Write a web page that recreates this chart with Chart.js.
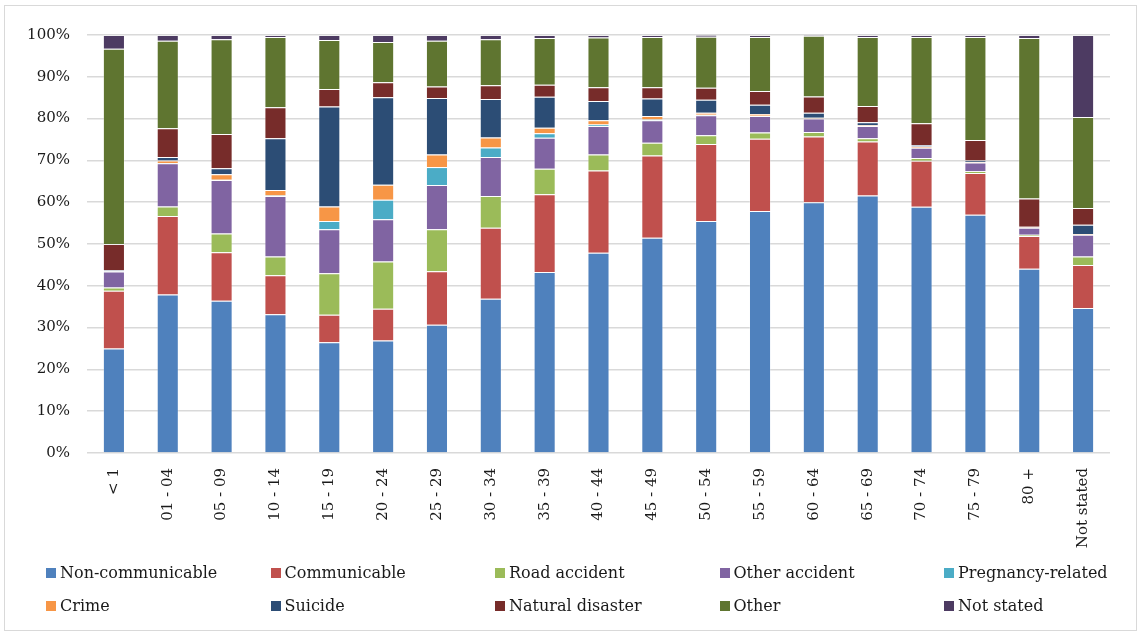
<!DOCTYPE html>
<html>
<head>
<meta charset="utf-8">
<script src="https://cdn.jsdelivr.net/npm/chart.js@4/dist/chart.umd.min.js"></script>
<style>
  body { margin: 0; background: #fff; }
  #wrap { position: relative; width: 1141px; height: 635px; }
  #frame { position: absolute; left: 4px; top: 5px; width: 1133px; height: 626px; border: 1px solid #d9d9d9; box-sizing: border-box; pointer-events: none; }
  #legend { position: absolute; left: 0; top: 0; width: 1141px; height: 635px; pointer-events: none; font-family: "DejaVu Serif", serif; font-size: 16px; color: #1a1a1a; }
  .item { position: absolute; display: flex; align-items: center; white-space: nowrap; }
  .sw { width: 10px; height: 10px; margin-right: 4px; }
</style>
</head>
<body>
<div id="wrap">
  <canvas id="deathsChart" width="1141" height="635"></canvas>
  <div id="frame"></div>
  <div id="legend"></div>
</div>
<script>
// age groups
const ageGroups = ['< 1', '01 - 04', '05 - 09', '10 - 14', '15 - 19', '20 - 24', '25 - 29', '30 - 34', '35 - 39',
  '40 - 44', '45 - 49', '50 - 54', '55 - 59', '60 - 64', '65 - 69', '70 - 74', '75 - 79', '80 +', 'Not stated'];

// share of deaths per cause, % of age group
const nonCommunicable = [25.0, 37.9, 36.4, 33.2, 26.5, 26.9, 30.7, 36.9, 43.3, 47.9, 51.5, 55.5, 57.9, 60.0, 61.6, 58.9, 57.0, 44.1, 34.7];
const communicable    = [13.8, 18.8, 11.6, 9.3, 6.6, 7.6, 12.8, 17.0, 18.6, 19.7, 19.7, 18.4, 17.3, 15.7, 12.9, 11.0, 10.0, 7.8, 10.3];
const roadAccident    = [0.8, 2.3, 4.5, 4.5, 9.9, 11.3, 10.0, 7.6, 6.1, 3.8, 3.0, 2.1, 1.5, 1.1, 0.8, 0.7, 0.4, 0.3, 2.0];
const otherAccident   = [3.8, 10.3, 12.8, 14.5, 10.5, 10.1, 10.6, 9.3, 7.4, 6.8, 5.4, 4.8, 3.9, 3.2, 2.9, 2.4, 2.1, 1.7, 5.2];
const pregnancy       = [0.0, 0.1, 0.1, 0.1, 2.0, 4.7, 4.3, 2.3, 1.1, 0.4, 0.2, 0.1, 0.1, 0.0, 0.0, 0.0, 0.0, 0.0, 0.0];
const crime           = [0.1, 0.6, 1.3, 1.3, 3.5, 3.6, 3.0, 2.4, 1.3, 1.0, 0.8, 0.5, 0.4, 0.2, 0.2, 0.3, 0.1, 0.1, 0.2];
const suicide         = [0.2, 0.8, 1.4, 12.4, 23.9, 20.9, 13.5, 9.2, 7.4, 4.6, 4.2, 3.1, 2.2, 1.2, 0.7, 0.4, 0.4, 0.1, 2.2];
const naturalDisaster = [6.3, 6.9, 8.2, 7.4, 4.2, 3.6, 2.8, 3.3, 2.9, 3.3, 2.7, 2.9, 3.3, 3.9, 3.9, 5.2, 4.9, 6.8, 4.0];
const other           = [46.7, 20.9, 22.7, 16.8, 11.7, 9.6, 10.9, 11.0, 11.2, 11.9, 12.0, 12.2, 12.9, 14.5, 16.5, 20.6, 24.6, 38.4, 21.8];
const notStated       = [3.3, 1.4, 1.0, 0.5, 1.2, 1.7, 1.4, 1.0, 0.7, 0.6, 0.5, 0.4, 0.5, 0.2, 0.5, 0.5, 0.5, 0.7, 19.6];

const seriesNames = ['Non-communicable', 'Communicable', 'Road accident', 'Other accident', 'Pregnancy-related',
  'Crime', 'Suicide', 'Natural disaster', 'Other', 'Not stated'];
const seriesData = [nonCommunicable, communicable, roadAccident, otherAccident, pregnancy,
  crime, suicide, naturalDisaster, other, notStated];
const colors = ['#4F81BD', '#C0504D', '#9BBB59', '#8064A2', '#4BACC6', '#F79646', '#2C4D75', '#772C2A', '#5F7530', '#4D3B62'];

const font = { family: '"DejaVu Serif", serif', size: 15 };

const chart = new Chart(document.getElementById('deathsChart').getContext('2d'), {
  type: 'bar',
  data: {
    labels: ageGroups,
    datasets: seriesNames.map((name, i) => ({
      label: name,
      data: seriesData[i],
      backgroundColor: colors[i],
      borderColor: 'rgba(255,255,255,0.25)',
      borderWidth: 1,
      barPercentage: 0.41,
      categoryPercentage: 1,
    })),
  },
  options: {
    responsive: false,
    animation: false,
    layout: { padding: { top: 35, right: 31, left: 0, bottom: 0 } },
    plugins: { legend: { display: false }, tooltip: { enabled: false } },
    scales: {
      x: {
        stacked: true,
        grid: { display: false },
        border: { display: false },
        ticks: { color: '#1a1a1a', font: font, minRotation: 90, maxRotation: 90, padding: 7 },
        afterFit: s => { s.height = 182; },
      },
      y: {
        stacked: true,
        min: 0,
        max: 100,
        grid: { color: '#d9d9d9', lineWidth: 1.5, drawTicks: false },
        border: { display: false },
        ticks: { stepSize: 10, color: '#1a1a1a', font: font, padding: 17, callback: v => v + '%' },
        afterFit: s => { s.width = 87; },
      },
    },
  },
});

// legend in two rows of five, like the original
const legend = document.getElementById('legend');
seriesNames.forEach((name, i) => {
  const el = document.createElement('div');
  el.className = 'item';
  el.style.left = (46 + (i % 5) * 224.5) + 'px';
  el.style.top = (i < 5 ? 563 : 596) + 'px';
  el.innerHTML = '<span class="sw" style="background:' + colors[i] + '"></span>' + name;
  legend.appendChild(el);
});
</script>
</body>
</html>
